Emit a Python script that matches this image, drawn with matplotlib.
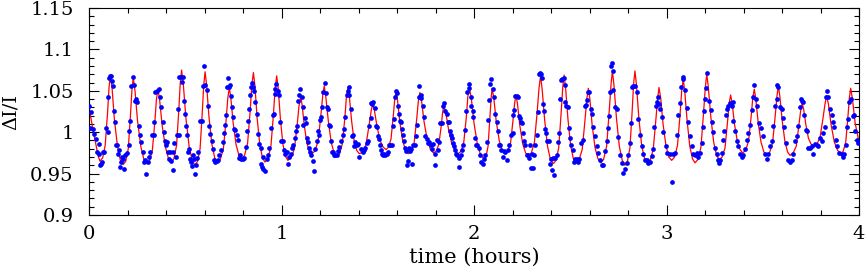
import matplotlib
matplotlib.use('Agg')
import matplotlib.pyplot as plt
from matplotlib.ticker import MultipleLocator

# observed points (hours, relative intensity)
obs_time = [
    0.000, 0.010, 0.005, 0.019, 0.024, 0.036, 0.050, 0.040,
    0.050, 0.057, 0.062, 0.068, 0.071, 0.080, 0.088, 0.097,
    0.100, 0.106, 0.111, 0.116, 0.120, 0.123, 0.130, 0.135,
    0.140, 0.145, 0.151, 0.158, 0.165, 0.161, 0.171, 0.178,
    0.184, 0.189, 0.198, 0.206, 0.210, 0.215, 0.220, 0.227,
    0.234, 0.239, 0.244, 0.249, 0.258, 0.265, 0.272, 0.279,
    0.286, 0.293, 0.298, 0.305, 0.313, 0.319, 0.327, 0.336,
    0.339, 0.345, 0.352, 0.362, 0.369, 0.374,
    0.383, 0.390, 0.396, 0.400, 0.405, 0.409, 0.417, 0.421,
    0.426, 0.435, 0.435, 0.443, 0.452, 0.455, 0.461, 0.466,
    0.469, 0.478, 0.483, 0.487, 0.493, 0.500, 0.504, 0.509,
    0.516, 0.521, 0.526, 0.532, 0.535, 0.539, 0.545, 0.552,
    0.556, 0.561, 0.568, 0.577, 0.585, 0.590, 0.599, 0.604,
    0.611, 0.616, 0.625, 0.630, 0.637, 0.642, 0.649, 0.656,
    0.663, 0.668, 0.677, 0.686, 0.694, 0.700, 0.705, 0.712,
    0.717, 0.722, 0.729, 0.734, 0.739,
    0.743, 0.746, 0.753, 0.760, 0.767, 0.772, 0.778, 0.784,
    0.790, 0.798, 0.807, 0.816, 0.821, 0.826, 0.833, 0.838,
    0.843, 0.847, 0.850, 0.857, 0.864, 0.871, 0.878, 0.885,
    0.894, 0.902, 0.896, 0.899, 0.906, 0.914, 0.925, 0.930,
    0.937, 0.946, 0.954, 0.959, 0.965, 0.968, 0.972, 0.980,
    0.985, 0.992, 0.999, 1.006, 1.015, 1.020, 1.027, 1.032,
    1.041, 1.049, 1.055, 1.062, 1.068, 1.075, 1.082, 1.088,
    1.093, 1.098,
    1.106, 1.110, 1.113, 1.120, 1.127, 1.131, 1.136, 1.145,
    1.148, 1.153, 1.162, 1.167, 1.172, 1.183, 1.188, 1.197,
    1.200, 1.207, 1.210, 1.217, 1.224, 1.231, 1.235, 1.242,
    1.245, 1.252, 1.257, 1.262, 1.269, 1.275, 1.280, 1.287,
    1.294, 1.300, 1.309, 1.318, 1.326, 1.332, 1.339, 1.344,
    1.349, 1.352, 1.361, 1.366, 1.373, 1.378, 1.384, 1.391,
    1.397, 1.404, 1.413, 1.422, 1.430, 1.436, 1.442, 1.448,
    1.456, 1.463, 1.467,
    1.470, 1.477, 1.484, 1.491, 1.498, 1.501, 1.508, 1.512,
    1.517, 1.522, 1.529, 1.534, 1.539, 1.546, 1.552, 1.560,
    1.564, 1.574, 1.578, 1.584, 1.588, 1.595, 1.602, 1.605,
    1.612, 1.617, 1.623, 1.626, 1.633, 1.638, 1.643, 1.647,
    1.650, 1.657, 1.664, 1.669, 1.675, 1.678, 1.685, 1.692,
    1.699, 1.706, 1.713, 1.716, 1.723, 1.727, 1.733, 1.742,
    1.747, 1.754, 1.759, 1.768, 1.777, 1.782, 1.789, 1.796,
    1.799, 1.806, 1.811, 1.820, 1.825,
    1.834, 1.841, 1.846, 1.851, 1.858, 1.863, 1.868, 1.875,
    1.881, 1.886, 1.889, 1.898, 1.903, 1.907, 1.912, 1.920,
    1.924, 1.931, 1.938, 1.945, 1.952, 1.958, 1.965, 1.972,
    1.976, 1.983, 1.986, 1.993, 1.997, 2.004, 2.010, 2.017,
    2.024, 2.031, 2.038, 2.045, 2.052, 2.059, 2.066, 2.071,
    2.080, 2.085, 2.088, 2.097, 2.106, 2.111, 2.118, 2.125,
    2.128, 2.135, 2.142, 2.149, 2.156, 2.163, 2.170, 2.177,
    2.184, 2.192,
    2.201, 2.204, 2.210, 2.215, 2.222, 2.227, 2.232, 2.239,
    2.244, 2.249, 2.256, 2.261, 2.267, 2.274, 2.281, 2.287,
    2.293, 2.296, 2.301, 2.308, 2.313, 2.319, 2.326, 2.332,
    2.336, 2.343, 2.348, 2.353, 2.360, 2.365, 2.371, 2.374,
    2.381, 2.388, 2.395, 2.400, 2.405, 2.412, 2.417, 2.423,
    2.429, 2.435, 2.440, 2.447, 2.452, 2.457, 2.468, 2.471,
    2.475, 2.480, 2.487, 2.492, 2.499, 2.506, 2.513, 2.520,
    2.526, 2.533, 2.540, 2.547, 2.554,
    2.568, 2.577, 2.582, 2.585, 2.594, 2.599, 2.606, 2.611,
    2.617, 2.629, 2.637, 2.646, 2.655, 2.663, 2.672, 2.681,
    2.689, 2.698, 2.703, 2.707, 2.710, 2.715, 2.720, 2.724,
    2.733, 2.741, 2.750, 2.759, 2.767, 2.772, 2.785, 2.793,
    2.802, 2.811, 2.814, 2.819, 2.828, 2.837, 2.845, 2.854,
    2.862, 2.871, 2.880, 2.888, 2.897, 2.906, 2.914, 2.923,
    2.932, 2.935, 2.946, 2.953, 2.958, 2.963, 2.966, 2.975,
    2.984, 2.998, 3.005, 3.018, 3.027, 3.036, 3.044, 3.053,
    3.062, 3.070, 3.074, 3.084, 3.088, 3.096, 3.105, 3.114,
    3.122, 3.131, 3.140, 3.148, 3.157, 3.166, 3.174, 3.183,
    3.192, 3.195, 3.200, 3.204, 3.209, 3.223, 3.230, 3.235,
    3.244, 3.252, 3.261, 3.266, 3.271, 3.278, 3.287, 3.292,
    3.299, 3.308, 3.313, 3.321, 3.330, 3.339, 3.344, 3.347,
    3.356, 3.365, 3.373, 3.382, 3.391, 3.399, 3.408, 3.417,
    3.425, 3.434, 3.443, 3.451, 3.457, 3.465, 3.472, 3.483,
    3.489, 3.500, 3.512, 3.521, 3.529, 3.538, 3.547, 3.555,
    3.564, 3.573, 3.576, 3.581, 3.590, 3.599, 3.604, 3.611,
    3.621, 3.633, 3.642, 3.651, 3.659, 3.668, 3.677, 3.685,
    3.694, 3.697, 3.704, 3.708, 3.715, 3.725, 3.729, 3.737,
    3.746, 3.755, 3.763, 3.772, 3.780, 3.789, 3.798, 3.806,
    3.815, 3.824, 3.829, 3.836, 3.841, 3.850, 3.858, 3.864,
    3.871, 3.881, 3.888, 3.898, 3.910, 3.916, 3.922, 3.933,
    3.940, 3.945, 3.950, 3.957, 3.967, 3.974, 3.980, 3.988,
    3.997,
]

obs_flux = [
    1.032, 1.024, 1.005, 1.004, 0.998, 0.992, 0.986, 0.976,
    0.974, 0.960, 0.962, 0.964, 0.976, 0.976, 1.005, 1.000,
    1.043, 1.065, 1.068, 1.068, 1.062, 1.056, 1.026, 1.012,
    0.985, 0.984, 0.974, 0.978, 0.964, 0.958, 0.970, 0.968,
    0.955, 0.973, 0.975, 0.985, 1.002, 1.014, 1.056, 1.067,
    1.057, 1.038, 1.040, 1.037, 1.008, 0.997, 0.988, 0.976,
    0.964, 0.967, 0.949, 0.964, 0.970, 0.976, 0.997, 0.997,
    1.012, 1.048, 1.050, 1.052, 1.043, 1.030,
    1.012, 1.000, 0.989, 0.985, 0.988, 0.976, 0.968, 0.976,
    0.965, 0.976, 0.954, 0.987, 0.970, 0.997, 1.028, 0.997,
    1.067, 1.067, 1.061, 1.067, 1.038, 1.022, 1.008, 0.997,
    0.976, 0.980, 0.968, 0.964, 0.959, 0.972, 0.968, 0.949,
    0.960, 0.969, 0.976, 1.014, 1.014, 1.056, 1.080, 1.057,
    1.051, 1.032, 1.008, 0.998, 0.989, 0.980, 0.966, 0.964,
    0.965, 0.967, 0.972, 0.978, 0.988, 0.999, 1.009, 1.021,
    1.054, 1.065, 1.055, 1.057, 1.044,
    1.030, 1.018, 1.004, 1.003, 0.997, 0.990, 0.969, 0.972,
    0.968, 0.968, 0.969, 0.982, 1.002, 1.014, 1.028, 1.045,
    1.054, 1.059, 1.054, 1.050, 1.036, 1.022, 0.998, 0.986,
    0.981, 0.970, 0.962, 0.958, 0.956, 0.953, 0.968, 0.972,
    0.981, 1.005, 1.021, 1.022, 1.046, 1.052, 1.058, 1.050,
    1.045, 1.012, 0.989, 0.989, 0.979, 0.974, 0.976, 0.962,
    0.970, 0.974, 0.981, 0.985, 0.993, 1.001, 1.008, 1.038,
    1.045, 1.052,
    1.042, 1.030, 1.009, 1.017, 1.011, 0.993, 0.988, 0.981,
    0.976, 0.973, 0.965, 0.953, 0.980, 0.989, 1.001, 0.997,
    1.015, 1.018, 1.031, 1.048, 1.059, 1.047, 1.030, 1.028,
    1.009, 1.007, 0.989, 0.976, 0.976, 0.973, 0.972, 0.972,
    0.977, 0.982, 0.989, 0.997, 1.004, 1.018, 1.045, 1.050,
    1.054, 1.045, 1.028, 0.996, 0.997, 0.983, 0.988, 0.985,
    0.986, 0.970, 0.980, 0.976, 0.978, 0.981, 0.987, 0.989,
    1.007, 1.017, 1.035,
    1.034, 1.036, 1.029, 1.008, 1.006, 0.996, 0.992, 0.985,
    0.979, 0.974, 0.973, 0.974, 0.972, 0.974, 0.976, 0.984,
    0.985, 0.985, 1.008, 1.016, 1.043, 1.050, 1.047, 1.032,
    1.022, 1.014, 1.012, 1.004, 0.997, 0.989, 0.981, 0.977,
    0.960, 0.965, 0.981, 0.977, 0.980, 0.961, 0.985, 0.985,
    0.995, 1.009, 1.043, 1.056, 1.045, 1.041, 1.032, 1.018,
    0.996, 0.992, 0.987, 0.988, 0.984, 0.980, 0.986, 0.974,
    0.960, 0.991, 0.978, 0.988, 1.011,
    1.011, 1.032, 1.035, 1.026, 1.022, 1.012, 1.012, 1.001,
    0.997, 0.993, 0.987, 0.983, 0.978, 0.974, 0.972, 0.958,
    0.969, 0.972, 0.978, 0.985, 1.003, 1.026, 1.049, 1.053,
    1.058, 1.043, 1.032, 1.026, 1.018, 0.993, 0.985, 0.985,
    0.981, 0.973, 0.964, 0.962, 0.968, 0.972, 0.988, 1.015,
    1.039, 1.058, 1.064, 1.052, 1.042, 1.022, 1.012, 1.001,
    0.985, 0.985, 0.978, 0.970, 0.977, 0.976, 0.966, 0.978,
    0.985, 0.997,
    0.999, 1.021, 1.027, 1.044, 1.044, 1.042, 1.019, 1.017,
    1.012, 1.011, 0.999, 0.989, 0.985, 0.972, 0.972, 0.969,
    0.985, 0.957, 0.974, 0.957, 0.972, 0.984, 0.997, 1.025,
    1.070, 1.072, 1.070, 1.065, 1.034, 1.026, 1.004, 0.999,
    0.989, 0.989, 0.962, 0.968, 0.954, 0.969, 0.948, 0.969,
    0.972, 0.988, 0.999, 1.040, 1.063, 1.064, 1.065, 1.057,
    1.036, 1.032, 1.031, 1.005, 0.993, 0.985, 0.979, 0.964,
    0.968, 0.968, 0.964, 0.968, 0.987,
    0.991, 1.032, 1.033, 1.039, 1.049, 1.048, 1.028, 1.022,
    1.006, 0.995, 0.983, 0.975, 0.966, 0.960, 0.960, 0.977,
    0.989, 1.005, 1.020, 1.048, 1.080, 1.084, 1.074, 1.051,
    1.030, 1.028, 0.994, 0.972, 0.963, 0.951, 0.955, 0.963,
    0.972, 0.987, 1.011, 1.054, 1.056, 1.056, 1.048, 1.016,
    0.997, 0.983, 0.974, 0.966, 0.967, 0.963, 0.964, 0.971,
    0.980, 1.006, 1.032, 1.037, 1.042, 1.034, 1.028, 1.018,
    1.000, 0.983, 0.975, 0.974, 0.940, 0.974, 0.975, 0.997,
    1.021, 1.035, 1.054, 1.064, 1.067, 1.051, 1.029, 1.012,
    0.995, 0.983, 0.974, 0.972, 0.975, 0.970, 0.975, 0.987,
    1.006, 1.026, 1.040, 1.053, 1.072, 1.038, 1.027, 1.012,
    1.000, 0.981, 0.974, 0.967, 0.963, 0.967, 0.975, 0.991,
    1.001, 1.021, 1.028, 1.032, 1.035, 1.032, 1.036, 1.013,
    1.001, 0.989, 0.983, 0.974, 0.970, 0.972, 0.980, 0.990,
    0.999, 1.009, 1.027, 1.042, 1.057, 1.040, 1.032, 1.011,
    1.005, 0.995, 0.974, 0.968, 0.974, 0.983, 0.989, 1.007,
    1.032, 1.040, 1.057, 1.054, 1.031, 1.028, 1.017, 1.006,
    0.987, 0.966, 0.964, 0.967, 0.974, 0.989, 0.995, 1.007,
    1.030, 1.040, 1.038, 1.037, 1.021, 1.003, 1.002, 0.981,
    0.981, 0.983, 0.974, 0.986, 0.985, 0.983, 0.993, 0.989,
    0.999, 1.006, 1.043, 1.050, 1.043, 1.028, 1.021, 1.012,
    1.006, 0.990, 0.983, 0.975, 0.974, 0.970, 0.974, 0.985,
    1.006, 1.016, 1.036, 1.040, 1.019, 1.021, 1.001, 0.991,
    0.987,
]

# fitted light curve, one line per pulse
model_time = [
    0.000, 0.010, 0.023, 0.036, 0.048, 0.057,
    0.071, 0.084, 0.096, 0.104, 0.111, 0.120, 0.132, 0.148, 0.163, 0.178,
    0.191, 0.204, 0.215, 0.223, 0.230, 0.239, 0.252, 0.269, 0.285, 0.300,
    0.315, 0.329, 0.342, 0.350, 0.358, 0.367, 0.380, 0.397, 0.413, 0.428,
    0.441, 0.455, 0.466, 0.474, 0.481, 0.490, 0.503, 0.520, 0.536, 0.551,
    0.564, 0.577, 0.588, 0.596, 0.603, 0.611, 0.623, 0.638, 0.653, 0.667,
    0.683, 0.698, 0.712, 0.721, 0.729, 0.737, 0.749, 0.764, 0.779, 0.793,
    0.808, 0.824, 0.837, 0.846, 0.854, 0.862, 0.873, 0.887, 0.901, 0.914,
    0.929, 0.945, 0.958, 0.967, 0.975, 0.983, 0.994, 1.007, 1.020, 1.033,
    1.050, 1.067, 1.081, 1.091, 1.100, 1.107, 1.118, 1.131, 1.144, 1.157,
    1.173, 1.190, 1.204, 1.214, 1.222, 1.230, 1.243, 1.258, 1.273, 1.287,
    1.302, 1.316, 1.329, 1.337, 1.345, 1.353, 1.364, 1.377, 1.391, 1.404,
    1.422, 1.439, 1.454, 1.466, 1.474, 1.483, 1.496, 1.512, 1.528, 1.543,
    1.556, 1.569, 1.580, 1.588, 1.595, 1.603, 1.615, 1.630, 1.645, 1.659,
    1.674, 1.689, 1.702, 1.711, 1.719, 1.728, 1.741, 1.758, 1.774, 1.789,
    1.803, 1.817, 1.829, 1.837, 1.844, 1.854, 1.868, 1.885, 1.902, 1.918,
    1.933, 1.947, 1.960, 1.968, 1.976, 1.986, 2.000, 2.018, 2.035, 2.052,
    2.063, 2.073, 2.082, 2.089, 2.094, 2.103, 2.115, 2.131, 2.146, 2.161,
    2.175, 2.190, 2.202, 2.211, 2.218, 2.226, 2.238, 2.253, 2.268, 2.282,
    2.298, 2.314, 2.328, 2.338, 2.346, 2.354, 2.367, 2.382, 2.397, 2.412,
    2.426, 2.440, 2.452, 2.461, 2.468, 2.476, 2.488, 2.502, 2.516, 2.530,
    2.546, 2.562, 2.576, 2.586, 2.594, 2.602, 2.614, 2.629, 2.644, 2.658,
    2.673, 2.689, 2.702, 2.712, 2.719, 2.727, 2.740, 2.755, 2.770, 2.784,
    2.797, 2.810, 2.821, 2.829, 2.836, 2.844, 2.856, 2.871, 2.886, 2.900,
    2.915, 2.931, 2.944, 2.954, 2.961, 2.970, 2.982, 2.997, 3.012, 3.027,
    3.042, 3.057, 3.070, 3.079, 3.087, 3.095, 3.107, 3.121, 3.135, 3.148,
    3.163, 3.179, 3.192, 3.202, 3.209, 3.217, 3.230, 3.245, 3.260, 3.274,
    3.289, 3.304, 3.316, 3.325, 3.333, 3.341, 3.353, 3.368, 3.382, 3.396,
    3.411, 3.426, 3.439, 3.448, 3.456, 3.464, 3.476, 3.491, 3.506, 3.520,
    3.535, 3.551, 3.564, 3.574, 3.581, 3.589, 3.601, 3.615, 3.629, 3.642,
    3.658, 3.674, 3.687, 3.697, 3.705, 3.713, 3.724, 3.737, 3.750, 3.763,
    3.780, 3.798, 3.813, 3.824, 3.832, 3.841, 3.855, 3.872, 3.889, 3.905,
    3.918, 3.931, 3.942, 3.950, 3.957, 3.966, 3.980, 4.000,
]

model_flux = [
    1.031, 1.017, 1.001, 0.985, 0.971, 0.965,
    0.969, 0.984, 1.022, 1.054, 1.069, 1.053, 1.015, 0.983, 0.966, 0.961,
    0.965, 0.980, 1.019, 1.051, 1.066, 1.050, 1.014, 0.983, 0.967, 0.962,
    0.966, 0.978, 1.012, 1.039, 1.052, 1.039, 1.008, 0.982, 0.968, 0.964,
    0.968, 0.984, 1.025, 1.059, 1.075, 1.058, 1.018, 0.983, 0.966, 0.960,
    0.965, 0.980, 1.022, 1.057, 1.073, 1.057, 1.019, 0.986, 0.969, 0.964,
    0.968, 0.980, 1.014, 1.041, 1.054, 1.041, 1.011, 0.985, 0.972, 0.968,
    0.972, 0.987, 1.025, 1.057, 1.072, 1.056, 1.018, 0.986, 0.969, 0.964,
    0.968, 0.983, 1.021, 1.053, 1.068, 1.053, 1.017, 0.986, 0.971, 0.966,
    0.969, 0.980, 1.008, 1.032, 1.043, 1.033, 1.009, 0.988, 0.977, 0.974,
    0.977, 0.989, 1.019, 1.044, 1.056, 1.043, 1.014, 0.988, 0.975, 0.971,
    0.974, 0.986, 1.017, 1.042, 1.054, 1.042, 1.014, 0.990, 0.978, 0.974,
    0.976, 0.985, 1.007, 1.026, 1.034, 1.026, 1.007, 0.990, 0.982, 0.979,
    0.982, 0.992, 1.018, 1.039, 1.049, 1.038, 1.012, 0.989, 0.978, 0.974,
    0.977, 0.987, 1.015, 1.038, 1.048, 1.037, 1.012, 0.990, 0.979, 0.975,
    0.977, 0.985, 1.006, 1.024, 1.032, 1.023, 1.003, 0.986, 0.977, 0.974,
    0.977, 0.988, 1.018, 1.043, 1.054, 1.041, 1.011, 0.985, 0.972, 0.968,
    0.971, 0.983, 1.015, 1.041, 1.053, 1.041, 1.014, 0.990, 0.978, 0.974,
    0.977, 0.987, 1.013, 1.035, 1.045, 1.034, 1.008, 0.986, 0.975, 0.971,
    0.975, 0.988, 1.024, 1.054, 1.068, 1.052, 1.015, 0.983, 0.967, 0.962,
    0.966, 0.981, 1.021, 1.054, 1.069, 1.053, 1.016, 0.984, 0.968, 0.963,
    0.967, 0.979, 1.013, 1.040, 1.053, 1.040, 1.008, 0.981, 0.968, 0.963,
    0.967, 0.983, 1.024, 1.058, 1.074, 1.057, 1.017, 0.983, 0.966, 0.960,
    0.965, 0.981, 1.023, 1.058, 1.074, 1.057, 1.018, 0.984, 0.968, 0.962,
    0.966, 0.979, 1.013, 1.041, 1.054, 1.041, 1.010, 0.984, 0.970, 0.966,
    0.970, 0.984, 1.020, 1.050, 1.064, 1.049, 1.014, 0.983, 0.968, 0.963,
    0.967, 0.982, 1.022, 1.055, 1.070, 1.055, 1.019, 0.988, 0.972, 0.967,
    0.970, 0.981, 1.010, 1.034, 1.045, 1.035, 1.010, 0.989, 0.979, 0.975,
    0.978, 0.989, 1.017, 1.041, 1.052, 1.040, 1.012, 0.988, 0.976, 0.972,
    0.975, 0.987, 1.018, 1.044, 1.056, 1.043, 1.014, 0.989, 0.976, 0.972,
    0.975, 0.983, 1.007, 1.026, 1.035, 1.027, 1.009, 0.993, 0.986, 0.983,
    0.985, 0.994, 1.017, 1.035, 1.044, 1.034, 1.009, 0.988, 0.978, 0.974,
    0.977, 0.988, 1.017, 1.042, 1.053, 1.040, 1.011, 0.988,
]

fig = plt.figure(figsize=(8.65, 2.73), dpi=100)
plt.rcParams['font.family'] = 'DejaVu Serif'
ax = fig.add_axes([89 / 865, 58 / 273, 770 / 865, 207 / 273])

ax.plot(model_time, model_flux, color='red', lw=0.9, zorder=2)
ax.plot(obs_time, obs_flux, 'o', color='blue', ms=3.4, mew=0, zorder=3)

ax.set_xlim(0, 4)
ax.set_ylim(0.9, 1.15)
ax.set_xticks([0, 1, 2, 3, 4])
ax.set_xticklabels(['0', '1', '2', '3', '4'])
ax.set_yticks([0.9, 0.95, 1.0, 1.05, 1.1, 1.15])
ax.set_yticklabels(['0.9', '0.95', '1', '1.05', '1.1', '1.15'])
ax.xaxis.set_minor_locator(MultipleLocator(0.2))
ax.yaxis.set_minor_locator(MultipleLocator(0.01))
ax.tick_params(which='both', direction='in', top=True, right=True, width=0.8)
ax.tick_params(which='major', length=7.5, labelsize=14)
ax.tick_params(which='minor', length=3.8)
ax.tick_params(axis='x', pad=7)
ax.tick_params(axis='y', pad=11)
for s in ax.spines.values():
    s.set_linewidth(0.8)

ax.set_xlabel('time (hours)', fontsize=15)
ax.set_ylabel('ΔI/I', fontsize=14)
ax.xaxis.set_label_coords(0.5, -0.16)
ax.yaxis.set_label_coords(-0.09, 0.5)

fig.savefig('out.png', dpi=100)
